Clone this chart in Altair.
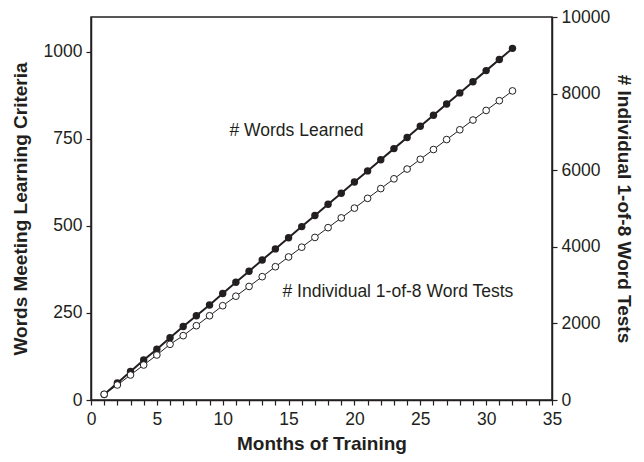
import altair as alt
import pandas as pd

months = list(range(1, 33))
words_learned = [16, 49, 82, 115, 146, 179, 211, 242, 273, 306, 338, 370, 402, 434, 466, 498,
                 530, 562, 594, 626, 658, 690, 722, 754, 786, 818, 850, 882, 914, 946, 978, 1010]
word_tests = [150, 392, 653, 914, 1175, 1454, 1680, 1940, 2200, 2462, 2710, 2965, 3220, 3480,
              3735, 3990, 4245, 4500, 4755, 5010, 5265, 5520, 5775, 6030, 6285, 6540, 6800,
              7055, 7310, 7560, 7815, 8070]

label_text = ["# Words Learned", "# Individual 1-of-8 Word Tests"]
label_month = [15.6, 23.3]
label_value = [773, 310]

FONT = "Liberation Sans"
INK = "#231f20"

df_w = pd.DataFrame({"month": months, "value": words_learned})
df_t = pd.DataFrame({"month": months, "value": word_tests})
df_lab = pd.DataFrame({"month": label_month, "value": label_value, "label": label_text})

x_enc = alt.X(
    "month:Q",
    scale=alt.Scale(domain=[0, 35], nice=False),
    axis=alt.Axis(
        title="Months of Training",
        values=list(range(36)),
        labelExpr="datum.value % 5 == 0 ? datum.label : ''",
        labelFlush=False,
        labelOverlap=False,
        grid=False,
        tickSize=5,
        labelPadding=5,
        titlePadding=7,
    ),
)

y_left = alt.Y(
    "value:Q",
    scale=alt.Scale(domain=[0, 1100], nice=False),
    axis=alt.Axis(
        title="Words Meeting Learning Criteria",
        values=[0, 250, 500, 750, 1000],
        format="d",
        orient="left",
        grid=False,
        tickSize=5,
        labelPadding=4,
        titlePadding=13,
    ),
)

y_right = alt.Y(
    "value:Q",
    scale=alt.Scale(domain=[0, 10000], nice=False),
    axis=alt.Axis(
        title="# Individual 1-of-8 Word Tests",
        values=[0, 2000, 4000, 6000, 8000, 10000],
        format="d",
        orient="right",
        grid=False,
        tickSize=5,
        labelPadding=4,
        titlePadding=4,
        titleAngle=90,
    ),
)

w_line = alt.Chart(df_w).mark_line(color=INK, strokeWidth=2).encode(x=x_enc, y=y_left)
w_pts = alt.Chart(df_w).mark_point(
    shape="circle", filled=True, color=INK, size=55, opacity=1
).encode(x=x_enc, y=y_left)
labels = alt.Chart(df_lab).mark_text(
    font=FONT, fontSize=17.5, color=INK, align="center", baseline="middle"
).encode(x=x_enc, y=y_left, text="label:N")

left = alt.layer(w_line, w_pts, labels)

t_line = alt.Chart(df_t).mark_line(color=INK, strokeWidth=1).encode(x=x_enc, y=y_right)
t_pts = alt.Chart(df_t).mark_point(
    shape="circle", filled=True, fill="white", stroke=INK, strokeWidth=1, size=45, opacity=1
).encode(x=x_enc, y=y_right)

right = alt.layer(t_line, t_pts)

chart = (
    alt.layer(left, right)
    .resolve_scale(y="independent")
    .properties(
        width=461,
        height=383,
        autosize=alt.AutoSizeParams(type="none"),
        padding={"left": 83, "top": 9, "right": 84, "bottom": 54},
    )
    .configure_view(stroke=INK, strokeWidth=1.5)
    .configure_axis(
        domainColor=INK,
        domainWidth=1.5,
        tickColor=INK,
        tickWidth=1.2,
        labelFont=FONT,
        labelFontSize=17.5,
        labelColor=INK,
        titleFont=FONT,
        titleFontSize=19,
        titleFontWeight="bold",
        titleColor=INK,
    )
)

chart.save("out.html", embed_options={"renderer": "svg", "actions": False})
